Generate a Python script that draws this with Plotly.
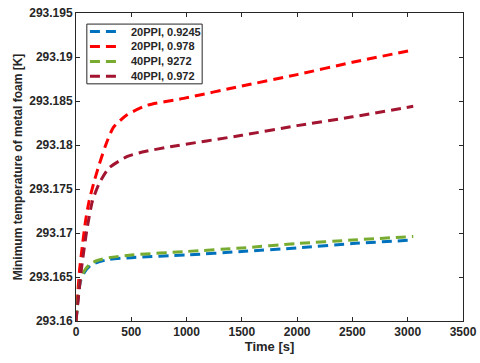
import plotly.graph_objects as go

# time [s] and minimum foam temperature [K]
t_20_9245 = [0, 40, 80, 130, 200, 300, 500, 1000, 1500, 2000, 2500, 3050]
T_20_9245 = [293.160, 293.1645, 293.1656, 293.1663, 293.1667, 293.1670, 293.1672,
             293.1675, 293.1679, 293.1683, 293.1688, 293.1692]

t_20_978 = [0, 30, 60, 88, 118, 163, 208, 269, 338, 459, 640, 973, 1500, 2000, 2500, 3050]
T_20_978 = [293.160, 293.1655, 293.1688, 293.1715, 293.1736, 293.1758, 293.1777, 293.1800,
            293.1820, 293.1834, 293.1845, 293.1853, 293.1867, 293.1880, 293.1894, 293.1908]

t_40_9272 = [0, 40, 80, 130, 200, 300, 500, 1000, 1500, 2000, 2500, 3050]
T_40_9272 = [293.160, 293.1647, 293.1658, 293.1665, 293.1669, 293.1672, 293.1675,
             293.1679, 293.1683, 293.1688, 293.1692, 293.1696]

t_40_972 = [0, 50, 100, 148, 208, 299, 465, 600, 852, 1500, 2000, 2500, 3050]
T_40_972 = [293.160, 293.1660, 293.1705, 293.1736, 293.1756, 293.1774, 293.1787,
            293.1792, 293.1798, 293.1811, 293.1822, 293.1832, 293.1844]

series_names = ["20PPI, 0.9245", "20PPI, 0.978", "40PPI, 9272", "40PPI, 0.972"]
series_colors = ["#0072BD", "#FF0000", "#77AC30", "#A2142F"]
series_data = [(t_20_9245, T_20_9245), (t_20_978, T_20_978),
               (t_40_9272, T_40_9272), (t_40_972, T_40_972)]

x_ticks = [0, 500, 1000, 1500, 2000, 2500, 3000, 3500]
y_ticks = [293.16, 293.165, 293.17, 293.175, 293.18, 293.185, 293.19, 293.195]
y_tick_labels = ["293.16", "293.165", "293.17", "293.175", "293.18", "293.185", "293.19", "293.195"]

FONT = 'Liberation Sans, Arial'
INK = '#262626'
DASH = '10px,6px'

fig = go.Figure()
for name, color, (t, T) in zip(series_names, series_colors, series_data):
    fig.add_trace(go.Scatter(
        x=t, y=T, mode='lines', name=name, showlegend=False,
        line=dict(color=color, width=3, dash=DASH, shape='spline', smoothing=0.6)
    ))

# compact MATLAB-style legend box (plotly's own legend rows are too tall)
leg_x0, leg_x1, leg_top, leg_bot = 0.028, 0.326, 0.964, 0.770
row_h = (leg_top - leg_bot) / 4
fig.add_shape(type='rect', xref='x domain', yref='y domain',
              x0=leg_x0, x1=leg_x1, y0=leg_bot, y1=leg_top,
              line=dict(color=INK, width=1), fillcolor='white', layer='above')
for i, (name, color) in enumerate(zip(series_names, series_colors)):
    yc = leg_top - (i + 0.5) * row_h
    fig.add_shape(type='line', xref='x domain', yref='y domain',
                  x0=0.036, x1=0.110, y0=yc, y1=yc, layer='above',
                  line=dict(color=color, width=3, dash=DASH))
    fig.add_annotation(xref='x domain', yref='y domain', x=0.136, y=yc,
                       xanchor='left', yanchor='middle', showarrow=False,
                       text='<b>%s</b>' % name,
                       font=dict(family=FONT, size=11, color=INK))

fig.update_layout(
    width=480, height=363,
    margin=dict(l=76, r=17, t=13, b=42),
    paper_bgcolor='white', plot_bgcolor='white',
    font=dict(family=FONT, size=12, color=INK),
    showlegend=False,
)
fig.update_xaxes(
    range=[0, 3500], tickvals=x_ticks, ticktext=[str(v) for v in x_ticks],
    ticks='inside', ticklen=4, tickcolor=INK, mirror='ticks', automargin=False,
    showline=True, linecolor=INK, linewidth=1, showgrid=False, zeroline=False,
    tickfont=dict(family=FONT, size=12, color=INK, weight='bold'),
    title=dict(text='<b>Time [s]</b>', font=dict(size=13), standoff=2),
)
fig.update_yaxes(
    range=[293.16, 293.195], tickvals=y_ticks, ticktext=y_tick_labels,
    ticks='inside', ticklen=4, tickcolor=INK, mirror='ticks', automargin=False,
    showline=True, linecolor=INK, linewidth=1, showgrid=False, zeroline=False,
    tickfont=dict(family=FONT, size=12, color=INK, weight='bold'),
    title=dict(text='<b>Minimum temperature of metal foam [K]</b>', font=dict(size=12), standoff=4),
)

# drop the browser's default 8px body margin so the figure sits at the page corner
fig.write_html("out.html", config={'displayModeBar': False},
               post_script="document.body.style.margin='0';")
